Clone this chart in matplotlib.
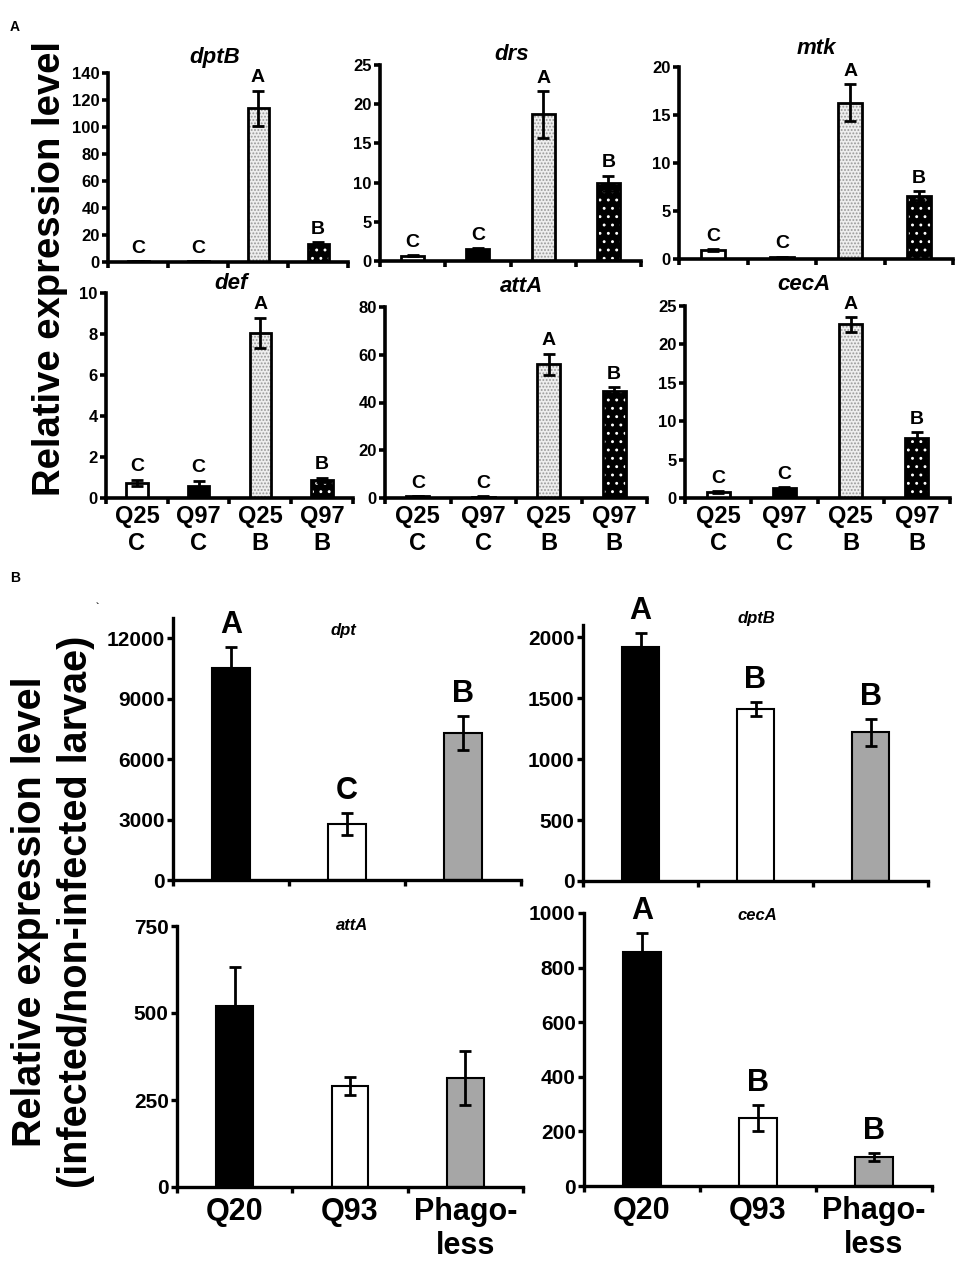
import numpy as np
import matplotlib
matplotlib.use("Agg")
import matplotlib.pyplot as plt

plt.rcParams['font.family'] = ['Liberation Sans', 'DejaVu Sans']
plt.rcParams['font.weight'] = 'bold'
plt.rcParams['hatch.linewidth'] = 0.9

W, H = 957, 1262

# panel A data
a_groups = ['Q25\nC', 'Q97\nC', 'Q25\nB', 'Q97\nB']
a_letters = ['C', 'C', 'A', 'B']
dptB_a = [0.6, 0.4, 114, 13]
dptB_a_err = [0.2, 0.2, 13, 1.5]
drs_a = [0.7, 1.5, 18.7, 9.9]
drs_a_err = [0.1, 0.1, 3.0, 1.0]
mtk_a = [0.9, 0.2, 16.3, 6.6]
mtk_a_err = [0.1, 0.05, 1.9, 0.5]
def_a = [0.75, 0.6, 8.05, 0.9]
def_a_err = [0.15, 0.25, 0.75, 0.1]
attA_a = [0.8, 0.6, 56, 45]
attA_a_err = [0.1, 0.1, 4.5, 1.3]
cecA_a = [0.8, 1.3, 22.6, 7.8]
cecA_a_err = [0.15, 0.1, 0.95, 0.8]

# panel B data
b_groups = ['Q20', 'Q93', 'Phago-\nless']
dpt_b = [10500, 2770, 7300]
dpt_b_err = [1050, 550, 850]
dpt_b_letters = ['A', 'C', 'B']
dptB_b = [1920, 1410, 1220]
dptB_b_err = [115, 60, 110]
dptB_b_letters = ['A', 'B', 'B']
attA_b = [520, 290, 313]
attA_b_err = [112, 26, 78]
attA_b_letters = ['', '', '']
cecA_b = [857, 249, 106]
cecA_b_err = [70, 48, 16]
cecA_b_letters = ['A', 'B', 'B']


def box(x0, x1, ybot, ytop):
    return [x0 / W, 1 - ybot / H, (x1 - x0) / W, (ybot - ytop) / H]


fig = plt.figure(figsize=(W / 100, H / 100), dpi=100)


def style_axes(ax, n, lw, tick_fs, xlab_fs, labels, pad, lsp):
    for s in ['top', 'right']:
        ax.spines[s].set_visible(False)
    for s in ['left', 'bottom']:
        ax.spines[s].set_linewidth(lw)
    ax.set_xlim(-0.5, n - 0.5)
    ax.set_xticks(np.arange(n + 1) - 0.5)
    ax.set_xticklabels([])
    if labels:
        ax.set_xticks(np.arange(n), minor=True)
        ax.set_xticklabels(labels, minor=True, fontsize=xlab_fs, fontweight='bold',
                           linespacing=lsp)
        ax.tick_params(axis='x', which='minor', length=0, pad=pad)
    ax.tick_params(axis='x', which='major', length=4, width=lw, direction='out')
    ax.tick_params(axis='y', length=4, width=lw, labelsize=tick_fs, pad=2)
    for t in ax.get_yticklabels():
        t.set_fontweight('bold')


def panel_a(rect, vals, errs, ymax, step, title, tpos, labels):
    ax = fig.add_axes(box(*rect))
    x = np.arange(4)
    w = 0.35
    ax.bar(x[0], vals[0], w, color='white', edgecolor='black', linewidth=2, zorder=2)
    ax.bar(x[1], vals[1], w, color='black', edgecolor='black', linewidth=2, zorder=2)
    ax.bar(x[2], vals[2], w, color='#eeeeee', edgecolor='#999999', hatch='.....',
           linewidth=0, zorder=2)
    ax.bar(x[2], vals[2], w, fill=False, edgecolor='black', linewidth=2, zorder=3)
    ax.bar(x[3], vals[3], w, color='black', edgecolor='white', hatch='..',
           linewidth=0, zorder=2)
    ax.bar(x[3], vals[3], w, fill=False, edgecolor='black', linewidth=2, zorder=3)
    ax.errorbar(x, vals, yerr=errs, fmt='none', ecolor='black', elinewidth=2,
                capsize=4, capthick=2, zorder=4)
    for xi, v, e, lab in zip(x, vals, errs, a_letters):
        ax.annotate(lab, (xi, v + e), xytext=(0, 3), textcoords='offset points',
                    ha='center', va='bottom', fontsize=14, fontweight='bold')
    ax.set_ylim(0, ymax)
    ax.set_yticks(np.arange(0, ymax + step / 2, step))
    style_axes(ax, 4, 2.6, 12, 17, labels, 5, 1.25)
    fig.text(tpos[0] / W, 1 - tpos[1] / H, title, ha='center', va='center',
             fontsize=16, fontweight='bold', style='italic')
    return ax


def panel_b(rect, vals, errs, letters, ylim, step, title, tpos, labels):
    ax = fig.add_axes(box(*rect))
    x = np.arange(3)
    w = 0.32
    ax.bar(x, vals, w, color=['black', 'white', '#a6a6a6'], edgecolor='black',
           linewidth=1.5, zorder=2)
    ax.errorbar(x, vals, yerr=errs, fmt='none', ecolor='black', elinewidth=2,
                capsize=4, capthick=2, zorder=4)
    for xi, v, e, lab in zip(x, vals, errs, letters):
        if lab:
            ax.annotate(lab, (xi, v + e), xytext=(0, 5), textcoords='offset points',
                        ha='center', va='bottom', fontsize=22, fontweight='bold')
    ax.set_ylim(0, ylim)
    ax.set_yticks(np.arange(0, ylim + 1, step))
    style_axes(ax, 3, 2.4, 15, 22, labels, 7, 1.18)
    fig.text(tpos[0] / W, 1 - tpos[1] / H, title, ha='center', va='center',
             fontsize=12, fontweight='bold', style='italic')
    return ax


panel_a((108, 348, 262, 73), dptB_a, dptB_a_err, 140, 20, 'dptB', (215, 58), None)
panel_a((380, 641, 261, 65), drs_a, drs_a_err, 25, 5, 'drs', (512, 55), None)
panel_a((679, 953, 259, 67), mtk_a, mtk_a_err, 20, 5, 'mtk', (816, 48), None)
panel_a((106, 353, 498, 293), def_a, def_a_err, 10, 2, 'def', (231, 283), a_groups)
panel_a((385, 647, 498, 307), attA_a, attA_a_err, 80, 20, 'attA', (522, 287), a_groups)
panel_a((685, 950, 498, 306), cecA_a, cecA_a_err, 25, 5, 'cecA', (804, 285), a_groups)

panel_b((173, 521, 880, 618), dpt_b, dpt_b_err, dpt_b_letters, 13000, 3000,
        'dpt', (343, 630), None)
panel_b((583, 928, 881, 625), dptB_b, dptB_b_err, dptB_b_letters, 2100, 500,
        'dptB', (756, 618), None)
panel_b((177, 523, 1187, 926), attA_b, attA_b_err, attA_b_letters, 750, 250,
        'attA', (352, 926), b_groups)
panel_b((584, 932, 1186, 913), cecA_b, cecA_b_err, cecA_b_letters, 1000, 200,
        'cecA', (757, 915), b_groups)

fig.text(50 / W, 1 - 268 / H, 'Relative expression level', rotation=90,
         ha='center', va='center', fontsize=27.5, fontweight='bold')
fig.text(53 / W, 1 - 912 / H, 'Relative expression level\n(infected/non-infected larvae)',
         rotation=90, ha='center', va='center', fontsize=28.5, fontweight='bold',
         multialignment='center', linespacing=1.25)
fig.text(15 / W, 1 - 27 / H, 'A', ha='center', va='center', fontsize=10, fontweight='bold')
fig.text(15 / W, 1 - 578 / H, 'B', ha='center', va='center', fontsize=10, fontweight='bold')
fig.text(97 / W, 1 - 607 / H, '`', ha='center', va='center', fontsize=7)

fig.savefig('out.png', dpi=100)
